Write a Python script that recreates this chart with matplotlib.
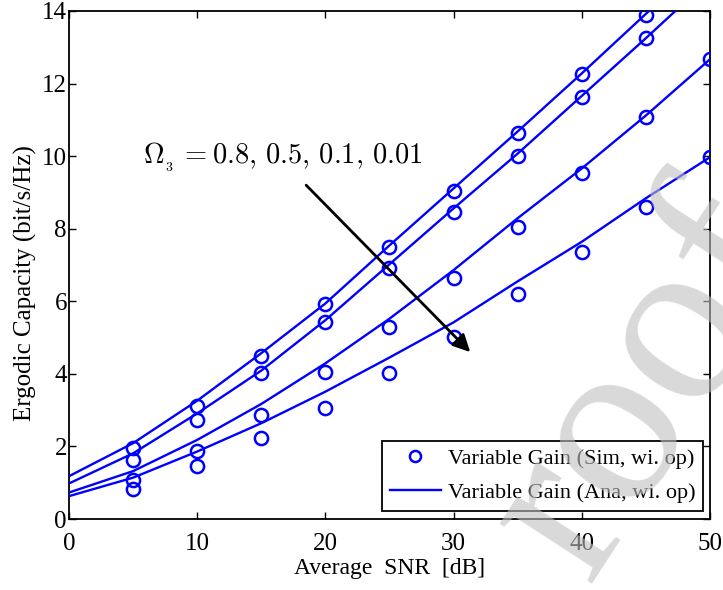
import matplotlib
matplotlib.use("Agg")
import matplotlib.pyplot as plt
from matplotlib.lines import Line2D

# ---- data ----
snr_line = [0, 5, 10, 15, 20, 25, 30, 35, 40, 45, 50]
ana_08 = [1.18, 2.09, 3.26, 4.57, 5.94, 7.54, 9.11, 10.68, 12.28, 13.92, 15.55]
ana_05 = [0.98, 1.81, 2.91, 4.09, 5.48, 7.02, 8.56, 10.07, 11.66, 13.25, 14.88]
ana_01 = [0.73, 1.32, 2.18, 3.17, 4.29, 5.52, 6.86, 8.29, 9.66, 11.12, 12.67]
ana_001 = [0.63, 1.14, 1.86, 2.64, 3.51, 4.45, 5.42, 6.55, 7.64, 8.84, 9.97]

snr_sim = [5, 10, 15, 20, 25, 30, 35, 40, 45, 50]
sim_08 = [1.95, 3.11, 4.49, 5.92, 7.50, 9.04, 10.63, 12.25, 13.90, 15.55]
sim_05 = [1.63, 2.73, 4.03, 5.42, 6.91, 8.45, 10.00, 11.62, 13.25, 14.88]
sim_01 = [1.07, 1.87, 2.88, 4.04, 5.30, 6.63, 8.06, 9.53, 11.09, 12.67]
sim_001 = [0.82, 1.46, 2.22, 3.07, 4.03, 5.02, 6.20, 7.37, 8.60, 9.97]

x_ticks = [0, 10, 20, 30, 40, 50]
y_ticks = [0, 2, 4, 6, 8, 10, 12, 14]

legend_labels = ["Variable Gain (Sim, wi. op)", "Variable Gain (Ana, wi. op)"]
annot_text = r"$\Omega_{_3}\,=0.8,\,0.5,\,0.1,\,0.01$"
watermark = "roof"

plt.rcParams['font.family'] = ['Liberation Serif', 'DejaVu Serif']
plt.rcParams['mathtext.fontset'] = 'cm'

fig = plt.figure(figsize=(7.23, 5.9), dpi=100)
ax = fig.add_axes([0.0954, 0.1203, 0.8866, 0.8611])

blue = '#0000ff'
for ys in [ana_08, ana_05, ana_01, ana_001]:
    ax.plot(snr_line, ys, color=blue, lw=1.7, zorder=3)
for ys in [sim_08, sim_05, sim_01, sim_001]:
    ax.plot(snr_sim, ys, linestyle='none', marker='o', ms=9.5, mfc='none',
            mec=blue, mew=1.8, zorder=4)

ax.set_xlim(0, 50)
ax.set_ylim(0, 14)
ax.set_xticks(x_ticks)
ax.set_yticks(y_ticks)
ax.tick_params(direction='in', top=True, right=True, length=5, width=1,
               labelsize=18)
ax.tick_params(axis='x', pad=10)
ax.tick_params(axis='y', pad=1.5)
for s in ax.spines.values():
    s.set_linewidth(1.3)

ax.set_xlabel("Average  SNR  [dB]", fontsize=17, labelpad=2)
ax.set_ylabel("Ergodic Capacity (bit/s/Hz)", fontsize=18)
ax.yaxis.set_label_coords(-0.05, 0.465)

ax.annotate("", xy=(31.3, 4.6), xytext=(18.5, 9.2),
            arrowprops=dict(arrowstyle='-|>', color='black', lw=2,
                            mutation_scale=26, shrinkA=0, shrinkB=0), zorder=5)
ax.text(5.8, 10.0, annot_text, fontsize=20.5, ha='left', va='center', zorder=5)

handles = [Line2D([], [], linestyle='none', marker='o', ms=8, mfc='none',
                  mec=blue, mew=1.8),
           Line2D([], [], color=blue, lw=1.7)]
leg = ax.legend(handles, legend_labels, loc='lower right',
                bbox_to_anchor=(0.989, 0.0157), borderaxespad=0,
                fontsize=16, fancybox=False, edgecolor='black',
                framealpha=1, handlelength=2.3, handletextpad=0.3,
                borderpad=0.35, labelspacing=0.62)
leg.get_frame().set_linewidth(1.3)

# watermark
fig.text(0.963, 0.295, watermark, fontsize=173, rotation=57, color='#c0c0c0',
         alpha=0.6, ha='center', va='baseline', rotation_mode='anchor',
         family='Liberation Serif', zorder=10)

fig.savefig("out.png", dpi=100)
